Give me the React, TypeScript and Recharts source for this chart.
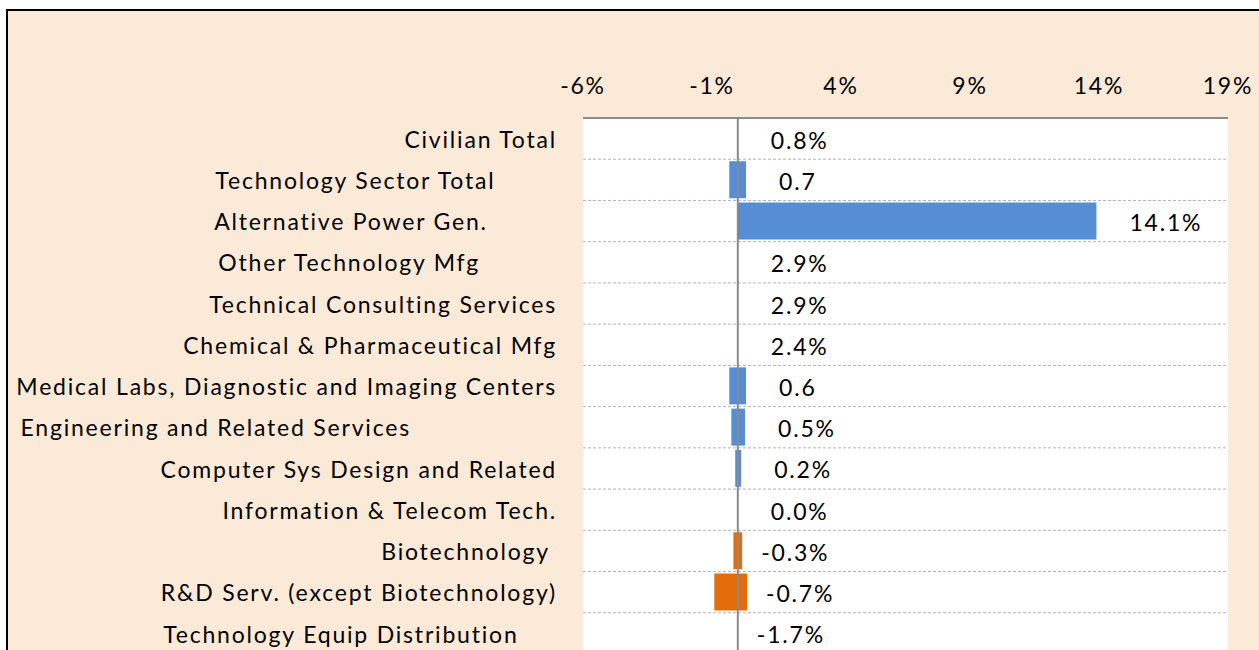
import React from "react";
import {
  ComposedChart,
  Bar,
  Scatter,
  XAxis,
  YAxis,
  CartesianGrid,
  ReferenceLine,
  Cell,
} from "recharts";

const pad = (s: string, n: number) => s + "\u00a0".repeat(n);

const categories = [
  "Civilian Total",
  pad("Technology Sector Total", 8),
  pad("Alternative Power Gen.", 9),
  pad("Other Technology Mfg", 10),
  "Technical Consulting Services",
  "Chemical & Pharmaceutical Mfg",
  "Medical Labs, Diagnostic and Imaging Centers",
  pad("Engineering and Related Services", 19),
  "Computer Sys Design and Related",
  "Information & Telecom Tech.",
  pad("Biotechnology", 1),
  "R&D Serv. (except Biotechnology)",
  pad("Technology Equip Distribution", 5),
];

// value shown in the data labels
const values = [0.8, 0.7, 14.1, 2.9, 2.9, 2.4, 0.6, 0.5, 0.2, 0.0, -0.3, -0.7, -1.7];
const valueLabels = ["0.8%", "0.7", "14.1%", "2.9%", "2.9%", "2.4%", "0.6", "0.5%", "0.2%", "0.0%", "-0.3%", "-0.7%", "-1.7%"];

// extent of the bar as it is drawn in the chart
const barLow = [0, -0.33, 0, 0, 0, 0, -0.33, -0.25, -0.1, 0, -0.17, -0.91, 0];
const barHigh = [0, 0.32, 13.9, 0, 0, 0, 0.32, 0.28, 0.13, 0, 0.17, 0.36, 0];

const xTicks = [-6, -1, 4, 9, 14, 19];

const data = categories.map((name, i) => ({
  name,
  range: [barLow[i], barHigh[i]],
  labelAt: Math.max(barHigh[i], 0),
  value: values[i],
  label: valueLabels[i],
}));

const FONT = "Lato, 'Open Sans', sans-serif";
const FS = 23;
const SPACING = 1.8;

const ValueLabel = (props: any) => {
  const { cx, cy, payload } = props;
  const neg = payload.value < 0;
  return (
    <text
      x={cx + (neg ? 19 : 33)}
      y={cy + 1}
      dominantBaseline="central"
      textAnchor="start"
      fontFamily={FONT}
      fontSize={FS}
      letterSpacing={SPACING}
      fill="#000"
    >
      {payload.label}
    </text>
  );
};

export default function App() {
  const W = 1251;
  const H = 700;
  return (
    <div
      style={{
        position: "fixed",
        left: 6,
        top: 9,
        width: 1253,
        height: 641,
        overflow: "hidden",
        background: "#fcead9",
        borderTop: "2px solid #000",
        borderLeft: "2px solid #000",
        boxSizing: "border-box",
      }}
    >
      <ComposedChart
        width={W}
        height={H}
        data={data}
        layout="vertical"
        margin={{ top: 0, right: 31, bottom: 57, left: 0 }}
        barCategoryGap={2}
      >
        <CartesianGrid
          vertical={false}
          fill="#ffffff"
          stroke="#b4b4b4"
          strokeDasharray="3 2"
          horizontalCoordinatesGenerator={({ offset }: any) =>
            categories.map((_, i) => offset.top + ((i + 1) * offset.height) / categories.length)
          }
        />
        <XAxis
          type="number"
          orientation="top"
          domain={[-6, 19]}
          ticks={xTicks}
          tickFormatter={(v) => `${v}%`}
          height={107}
          tickLine={false}
          tickMargin={18}
          axisLine={{ stroke: "#8c8c8c", strokeWidth: 2 }}
          tick={{ fill: "#000", fontSize: FS, fontFamily: FONT, letterSpacing: SPACING }}
          allowDataOverflow
        />
        <YAxis
          type="category"
          dataKey="name"
          width={575}
          axisLine={false}
          tickLine={false}
          tickMargin={20}
          interval={0}
          tick={{ fill: "#000", fontSize: FS, fontFamily: FONT, letterSpacing: SPACING, dy: 1 }}
        />
        <ReferenceLine x={0} stroke="#8a8a8a" strokeWidth={2} />
        <Bar dataKey="range" isAnimationActive={false}>
          {data.map((d, i) => (
            <Cell key={`c-${i}`} fill={d.value < 0 ? "#e46c0a" : "#558ed5"} />
          ))}
        </Bar>
        <Scatter dataKey="labelAt" isAnimationActive={false} shape={<ValueLabel />} />
      </ComposedChart>
    </div>
  );
}
